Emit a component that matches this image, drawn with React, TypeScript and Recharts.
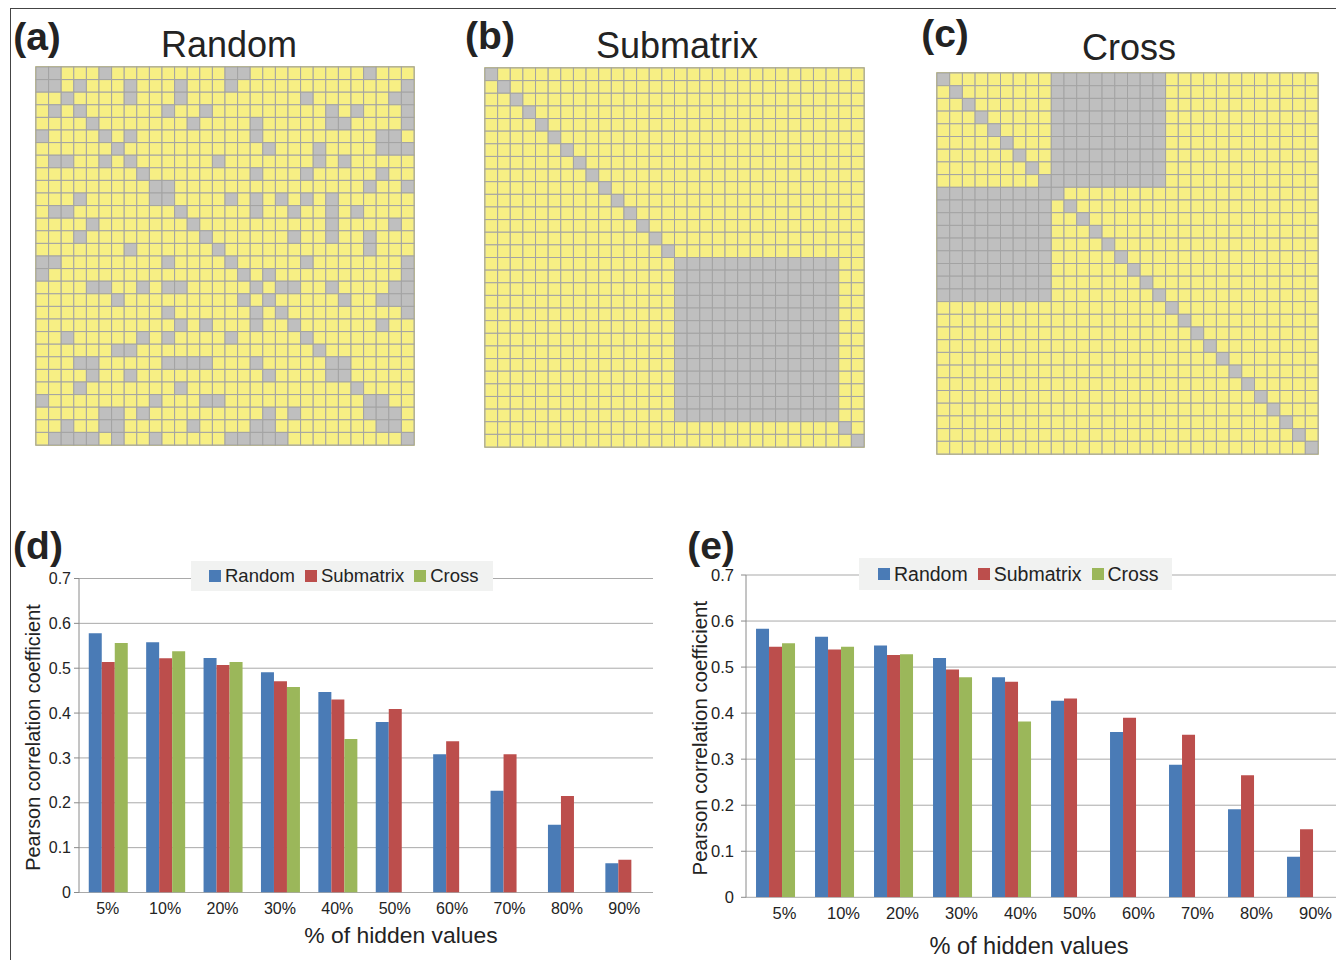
import React from "react";
import {
  Bar,
  BarChart,
  CartesianGrid,
  Label,
  Legend,
  ReferenceArea,
  Scatter,
  ScatterChart,
  XAxis,
  YAxis
} from "recharts";

const FONT = '"Liberation Sans", Arial, Helvetica, sans-serif';

const GRID_SIZE = 30;

// gray cells of the "Random" matrix, one list of column indices per row
const RANDOM_GRAY_COLS: number[][] = [
  [0, 1, 5, 15, 16, 26],
  [0, 1, 3, 7, 11, 15, 29],
  [2, 7, 11, 21, 28, 29],
  [1, 3, 10, 13, 23, 25, 29],
  [4, 12, 17, 23, 24, 29],
  [0, 5, 7, 17, 27, 28],
  [6, 18, 22, 27, 28, 29],
  [1, 2, 5, 7, 14, 22, 24],
  [8, 17, 21, 27],
  [9, 10, 26, 29],
  [3, 9, 10, 15, 17, 19, 21, 23],
  [1, 2, 11, 17, 20, 23, 25],
  [4, 12, 23, 28],
  [3, 13, 20, 23, 26],
  [7, 14, 26],
  [0, 1, 10, 15, 21, 29],
  [0, 16, 18, 29],
  [4, 5, 8, 10, 11, 17, 19, 20, 23, 28, 29],
  [6, 16, 18, 24, 27, 28, 29],
  [10, 17, 19, 29],
  [11, 13, 17, 20, 27],
  [2, 8, 10, 15, 21],
  [6, 7, 22],
  [3, 4, 10, 11, 12, 13, 17, 23, 24],
  [4, 7, 18, 23, 24],
  [3, 11, 25],
  [0, 9, 13, 14, 26, 27],
  [5, 6, 8, 18, 20, 26, 27, 28],
  [2, 5, 6, 12, 17, 18, 27, 28],
  [1, 2, 3, 4, 6, 9, 15, 16, 17, 18, 19, 29]
];

// hidden blocks besides the diagonal: [rowFrom, rowTo, colFrom, colTo]
const SUBMATRIX_BLOCKS: number[][] = [[15, 27, 15, 27]];
const CROSS_BLOCKS: number[][] = [
  [0, 8, 9, 17],
  [9, 17, 0, 8]
];

const SERIES_NAMES = ["Random", "Submatrix", "Cross"];
const HIDDEN_LABELS = ["5%", "10%", "20%", "30%", "40%", "50%", "60%", "70%", "80%", "90%"];
const Y_TICKS = [0, 0.1, 0.2, 0.3, 0.4, 0.5, 0.6, 0.7];

const D_RANDOM = [0.578, 0.558, 0.523, 0.491, 0.447, 0.38, 0.308, 0.227, 0.151, 0.065];
const D_SUBMATRIX = [0.514, 0.522, 0.507, 0.471, 0.43, 0.409, 0.337, 0.308, 0.215, 0.073];
const D_CROSS = [0.556, 0.538, 0.514, 0.458, 0.342, null, null, null, null, null];

const E_RANDOM = [0.583, 0.566, 0.547, 0.52, 0.478, 0.427, 0.359, 0.288, 0.191, 0.088];
const E_SUBMATRIX = [0.544, 0.538, 0.526, 0.495, 0.468, 0.432, 0.39, 0.353, 0.265, 0.148];
const E_CROSS = [0.552, 0.544, 0.528, 0.478, 0.382, null, null, null, null, null];

const BLUE = "#4a7bb6";
const RED = "#bc4e4c";
const GREEN = "#9bb75a";
const CELL_YELLOW = "#f7ef84";
const CELL_GRAY = "#bfbfbf";
const CELL_LINE = "#a3a3a3";
const MATRIX_BORDER = "#b5af5a";
const AXIS = "#8a8a8a";
const TEXT = "#232323";

function buildCells(isGray: (r: number, c: number) => boolean) {
  const cells: Array<{ x: number; y: number; gray: boolean }> = [];
  for (let r = 0; r < GRID_SIZE; r++) {
    for (let c = 0; c < GRID_SIZE; c++) {
      cells.push({ x: c + 0.5, y: r + 0.5, gray: isGray(r, c) });
    }
  }
  return cells;
}

function inBlocks(blocks: number[][], r: number, c: number) {
  return r === c || blocks.some(([r0, r1, c0, c1]) => r >= r0 && r <= r1 && c >= c0 && c <= c1);
}

const randomCells = buildCells((r, c) => RANDOM_GRAY_COLS[r].includes(c));
const submatrixCells = buildCells((r, c) => inBlocks(SUBMATRIX_BLOCKS, r, c));
const crossCells = buildCells((r, c) => inBlocks(CROSS_BLOCKS, r, c));

function buildBarData(random: number[], submatrix: number[], cross: Array<number | null>) {
  return HIDDEN_LABELS.map((hidden, i) => ({
    hidden,
    random: random[i],
    submatrix: submatrix[i],
    cross: cross[i]
  }));
}

const dData = buildBarData(D_RANDOM, D_SUBMATRIX, D_CROSS);
const eData = buildBarData(E_RANDOM, E_SUBMATRIX, E_CROSS);

function MatrixPanel({
  cells,
  left,
  top,
  size
}: {
  cells: Array<{ x: number; y: number; gray: boolean }>;
  left: number;
  top: number;
  size: number;
}) {
  const cell = size / GRID_SIZE;
  const pad = 2;
  return (
    <div style={{ position: "absolute", left: left - pad, top: top - pad }}>
      <ScatterChart
        width={size + pad * 2}
        height={size + pad * 2}
        margin={{ top: pad, right: pad, bottom: pad, left: pad }}
      >
        <XAxis type="number" dataKey="x" domain={[0, GRID_SIZE]} hide />
        <YAxis type="number" dataKey="y" domain={[0, GRID_SIZE]} reversed hide />
        <Scatter
          data={cells}
          isAnimationActive={false}
          shape={(p: any) => (
            <rect
              x={p.cx - cell / 2}
              y={p.cy - cell / 2}
              width={cell}
              height={cell}
              fill={p.payload.gray ? CELL_GRAY : CELL_YELLOW}
              stroke={CELL_LINE}
              strokeWidth={1}
            />
          )}
        />
        <ReferenceArea
          x1={0}
          x2={GRID_SIZE}
          y1={0}
          y2={GRID_SIZE}
          fill="none"
          fillOpacity={0}
          stroke={MATRIX_BORDER}
          strokeWidth={1.5}
          ifOverflow="visible"
        />
      </ScatterChart>
    </div>
  );
}

function LegendBox({ payload, fontSize, height, padLeft }: any) {
  const items = [...(payload || [])].sort(
    (a: any, b: any) => SERIES_NAMES.indexOf(a.value) - SERIES_NAMES.indexOf(b.value)
  );
  return (
    <div
      style={{
        display: "inline-flex",
        alignItems: "center",
        background: "#f1f2f1",
        height,
        padding: `0 4px 0 ${padLeft}px`,
        fontFamily: FONT,
        fontSize,
        color: TEXT,
        whiteSpace: "nowrap"
      }}
    >
      {items.map((p: any) => (
        <span key={p.value} style={{ display: "inline-flex", alignItems: "center", marginRight: 10 }}>
          <span style={{ width: 12, height: 12, background: p.color, marginRight: 4, display: "inline-block" }} />
          {p.value}
        </span>
      ))}
    </div>
  );
}

function BarPanel({
  data,
  left,
  top,
  width,
  height,
  margin,
  yAxisWidth,
  xAxisHeight,
  tickFont,
  tickDx,
  tickMarginY,
  xLabelOffset,
  xLabelDx,
  yLabelDx,
  legendPos,
  legendFont
}: any) {
  return (
    <div style={{ position: "absolute", left, top }}>
      <BarChart
        width={width}
        height={height}
        data={data}
        margin={margin}
        barCategoryGap="17%"
        barGap={0}
      >
        <CartesianGrid vertical={false} stroke="#a9a9a9" xAxisId="cat" />
        <XAxis
          xAxisId="edges"
          type="number"
          domain={[0, 10]}
          ticks={[0, 1, 2, 3, 4, 5, 6, 7, 8, 9, 10]}
          allowDataOverflow
          height={0}
          tick={false}
          tickSize={5}
          stroke={AXIS}
        />
        <XAxis
          xAxisId="cat"
          dataKey="hidden"
          axisLine={false}
          tickLine={false}
          interval={0}
          height={xAxisHeight}
          tickSize={5}
          tickMargin={5}
          tick={{ fill: TEXT, fontSize: tickFont, fontFamily: FONT, dx: tickDx }}
        >
          <Label
            value="% of hidden values"
            position="insideBottom"
            offset={xLabelOffset}
            dx={xLabelDx}
            style={{ fontSize: tickFont * 1.43, fontFamily: FONT, fill: TEXT }}
          />
        </XAxis>
        <YAxis
          domain={[0, 0.7]}
          ticks={Y_TICKS}
          allowDataOverflow
          width={yAxisWidth}
          tickSize={5}
          tickMargin={tickMarginY}
          stroke={AXIS}
          tick={{ fill: TEXT, fontSize: tickFont, fontFamily: FONT }}
        >
          <Label
            value="Pearson correlation coefficient"
            angle={-90}
            position="center"
            dx={yLabelDx}
            dy={2}
            style={{ fontSize: tickFont * 1.24, fontFamily: FONT, fill: TEXT, textAnchor: "middle" }}
          />
        </YAxis>
        <Legend
          layout="horizontal"
          verticalAlign="middle"
          align="center"
          wrapperStyle={{ left: legendPos.left, top: legendPos.top, width: "auto", height: legendPos.height }}
          content={(props: any) => (
            <LegendBox
              payload={props.payload}
              fontSize={legendFont}
              height={legendPos.height}
              padLeft={legendPos.padLeft}
            />
          )}
        />
        <Bar xAxisId="cat" dataKey="random" name={SERIES_NAMES[0]} fill={BLUE} isAnimationActive={false} />
        <Bar xAxisId="cat" dataKey="submatrix" name={SERIES_NAMES[1]} fill={RED} isAnimationActive={false} />
        <Bar xAxisId="cat" dataKey="cross" name={SERIES_NAMES[2]} fill={GREEN} isAnimationActive={false} />
      </BarChart>
    </div>
  );
}

function TextAt({
  x,
  y,
  size,
  bold,
  children
}: {
  x: number;
  y: number;
  size: number;
  bold?: boolean;
  children: React.ReactNode;
}) {
  return (
    <div
      style={{
        position: "absolute",
        left: x,
        top: y,
        transform: "translate(-50%, -50%)",
        fontFamily: FONT,
        fontSize: size,
        fontWeight: bold ? "bold" : "normal",
        lineHeight: 1,
        color: TEXT,
        whiteSpace: "nowrap"
      }}
    >
      {children}
    </div>
  );
}

export default function App() {
  return (
    <div
      style={{
        position: "absolute",
        left: 0,
        top: 0,
        width: 1336,
        height: 960,
        background: "#ffffff",
        overflow: "hidden"
      }}
    >
      <div
        style={{
          position: "absolute",
          left: 10,
          top: 8,
          width: 1336,
          height: 960,
          borderLeft: "1px solid #444",
          borderTop: "1px solid #444"
        }}
      />

      <TextAt x={37} y={36} size={39} bold>(a)</TextAt>
      <TextAt x={490} y={35} size={39} bold>(b)</TextAt>
      <TextAt x={945} y={33} size={39} bold>(c)</TextAt>
      <TextAt x={38} y={545} size={39} bold>(d)</TextAt>
      <TextAt x={711} y={545} size={39} bold>(e)</TextAt>

      <TextAt x={229} y={45} size={36}>Random</TextAt>
      <TextAt x={677} y={46} size={36}>Submatrix</TextAt>
      <TextAt x={1129} y={48} size={36}>Cross</TextAt>

      <MatrixPanel cells={randomCells} left={36} top={67} size={378} />
      <MatrixPanel cells={submatrixCells} left={485} top={68} size={379} />
      <MatrixPanel cells={crossCells} left={937} top={73} size={381} />

      <BarPanel
        data={dData}
        left={16}
        top={540}
        width={664}
        height={420}
        margin={{ top: 38.5, right: 27, bottom: 7.5, left: 0 }}
        yAxisWidth={63}
        xAxisHeight={60}
        tickFont={16}
        tickDx={0}
        tickMarginY={3}
        xLabelOffset={10}
        xLabelDx={35}
        yLabelDx={-14.5}
        legendPos={{ left: 175, top: 21, height: 30, padLeft: 18 }}
        legendFont={18.5}
      />
      <BarPanel
        data={eData}
        left={676}
        top={540}
        width={660}
        height={420}
        margin={{ top: 35, right: 0, bottom: 6.7, left: 0 }}
        yAxisWidth={70}
        xAxisHeight={56}
        tickFont={16.5}
        tickDx={9}
        tickMarginY={7}
        xLabelOffset={-1}
        xLabelDx={-12}
        yLabelDx={-11}
        legendPos={{ left: 183, top: 18, height: 32, padLeft: 19 }}
        legendFont={19.5}
      />
    </div>
  );
}
